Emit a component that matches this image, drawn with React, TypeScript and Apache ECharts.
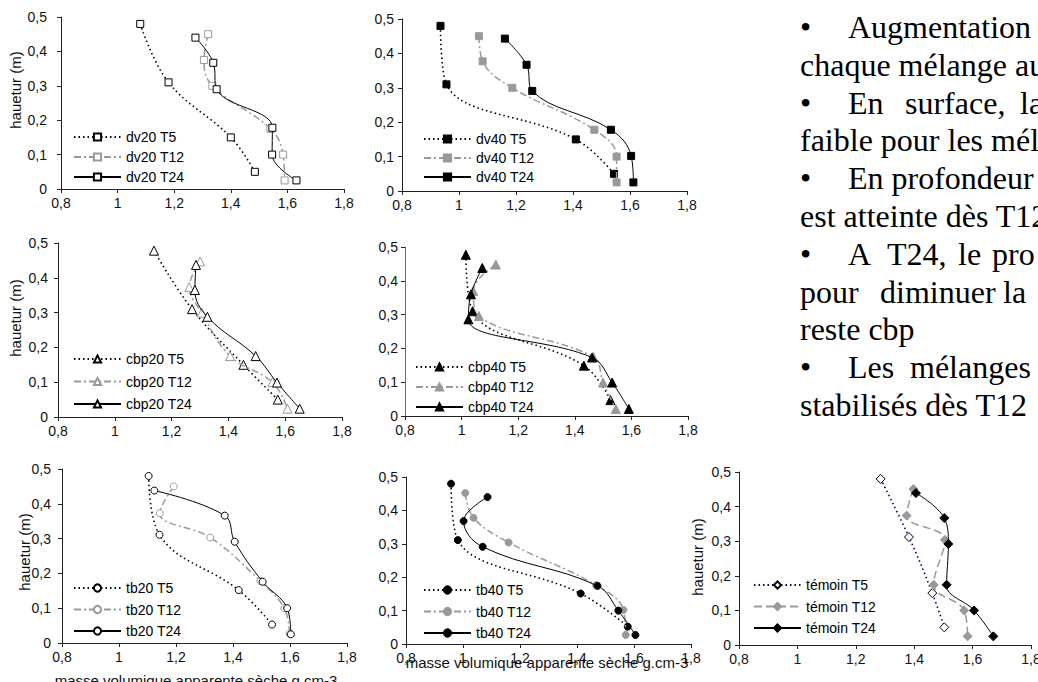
import React, { useEffect, useRef } from "react";
import * as echarts from "echarts";

// ---- data: [masse volumique, hauteur] ----
const dv20T5 = [[1.08, 0.48], [1.18, 0.31], [1.4, 0.15], [1.485, 0.05]];
const dv20T12 = [[1.32, 0.45], [1.305, 0.375], [1.335, 0.3], [1.54, 0.175], [1.585, 0.1], [1.59, 0.025]];
const dv20T24 = [[1.275, 0.44], [1.338, 0.367], [1.35, 0.29], [1.547, 0.178], [1.546, 0.1], [1.632, 0.025]];

const dv40T5 = [[0.935, 0.48], [0.956, 0.31], [1.41, 0.15], [1.544, 0.05]];
const dv40T12 = [[1.07, 0.45], [1.083, 0.377], [1.187, 0.3], [1.475, 0.178], [1.553, 0.1], [1.553, 0.025]];
const dv40T24 = [[1.161, 0.443], [1.237, 0.367], [1.257, 0.291], [1.533, 0.178], [1.604, 0.102], [1.612, 0.025]];

const cbp20T5 = [[1.138, 0.478], [1.272, 0.31], [1.453, 0.15], [1.574, 0.05]];
const cbp20T12 = [[1.3, 0.447], [1.262, 0.373], [1.306, 0.3], [1.406, 0.175], [1.555, 0.1], [1.608, 0.024]];
const cbp20T24 = [[1.286, 0.437], [1.282, 0.365], [1.326, 0.288], [1.496, 0.175], [1.571, 0.099], [1.651, 0.024]];

const cbp40T5 = [[1.015, 0.477], [1.039, 0.31], [1.432, 0.149], [1.526, 0.047]];
const cbp40T12 = [[1.121, 0.448], [1.041, 0.37], [1.061, 0.296], [1.465, 0.175], [1.5, 0.099], [1.545, 0.021]];
const cbp40T24 = [[1.073, 0.438], [1.033, 0.36], [1.024, 0.286], [1.461, 0.173], [1.532, 0.099], [1.591, 0.021]];

const tb20T5 = [[1.104, 0.48], [1.142, 0.311], [1.42, 0.152], [1.537, 0.053]];
const tb20T12 = [[1.192, 0.45], [1.143, 0.373], [1.32, 0.303], [1.496, 0.178], [1.58, 0.1], [1.598, 0.027]];
const tb20T24 = [[1.124, 0.438], [1.371, 0.366], [1.406, 0.291], [1.504, 0.176], [1.59, 0.1], [1.603, 0.025]];

const tb40T5 = [[0.958, 0.48], [0.982, 0.311], [1.413, 0.151], [1.578, 0.052]];
const tb40T12 = [[1.008, 0.452], [1.037, 0.378], [1.16, 0.304], [1.467, 0.176], [1.563, 0.102], [1.571, 0.027]];
const tb40T24 = [[1.086, 0.44], [1.002, 0.368], [1.069, 0.291], [1.472, 0.174], [1.545, 0.1], [1.605, 0.027]];

const temoinT5 = [[1.285, 0.48], [1.382, 0.312], [1.462, 0.15], [1.503, 0.051]];
const temoinT12 = [[1.397, 0.451], [1.374, 0.374], [1.505, 0.304], [1.467, 0.174], [1.571, 0.1], [1.583, 0.025]];
const temoinT24 = [[1.406, 0.439], [1.503, 0.367], [1.517, 0.292], [1.511, 0.174], [1.605, 0.1], [1.671, 0.025]];

const panelNames = ["dv20", "dv40", "cbp20", "cbp40", "tb20", "tb40", "témoin"];
const times = ["T5", "T12", "T24"];
const panelData = [
  [dv20T5, dv20T12, dv20T24],
  [dv40T5, dv40T12, dv40T24],
  [cbp20T5, cbp20T12, cbp20T24],
  [cbp40T5, cbp40T12, cbp40T24],
  [tb20T5, tb20T12, tb20T24],
  [tb40T5, tb40T12, tb40T24],
  [temoinT5, temoinT12, temoinT24],
];

const X_MIN = 0.8, X_MAX = 1.8, X_STEP = 0.2;
const Y_MIN = 0, Y_MAX = 0.5, Y_STEP = 0.1;
const yAxisTitle = "hauetur (m)";
const xAxisTitle = "masse volumique apparente sèche g.cm-3";

const textLines = [
  ["•", "Augmentation"],
  ["chaque mélange au"],
  ["•", "En", "surface,", "la"],
  ["faible pour les mél"],
  ["•", "En profondeur"],
  ["est atteinte dès T12"],
  ["•", "A", "T24,", "le", "pro"],
  ["pour", "diminuer", "la"],
  ["reste cbp"],
  ["•", "Les", "mélanges"],
  ["stabilisés dès T12"],
];

// ---- layout / style (not data) ----
const layouts = [
  { left: 61, top: 17, width: 283, height: 172, yM: 14, lgL: 73, lgT: 130, lgG: 6 },
  { left: 402, top: 19, width: 285, height: 172, yM: 8, lgL: 423, lgT: 132, lgG: 5 },
  { left: 58, top: 243, width: 284, height: 174, yM: 10, lgL: 73, lgT: 352, lgG: 8.5 },
  { left: 405, top: 247, width: 283, height: 169, yM: 7, lgL: 415, lgT: 360, lgG: 6 },
  { left: 62, top: 469, width: 285, height: 174, yM: 11, lgL: 73, lgT: 581, lgG: 7.5 },
  { left: 406, top: 477, width: 285, height: 167, yM: 8, lgL: 423, lgT: 583, lgG: 7.5 },
  { left: 739, top: 472, width: 292, height: 173, yM: 8, lgL: 753, lgT: 578, lgG: 7.5 },
];
const markers = [
  { symbol: "rect", size: 7, filled: [false, false, false] },
  { symbol: "rect", size: 7, filled: [true, true, true] },
  { symbol: "triangle", size: 9, filled: [false, false, false] },
  { symbol: "triangle", size: 9, filled: [true, true, true] },
  { symbol: "circle", size: 7, filled: [false, false, false] },
  { symbol: "circle", size: 7, filled: [true, true, true] },
  { symbol: "diamond", size: 9, filled: [false, true, true] },
];
const yTitlePos = [[15, 90], [15, 318], [24, 552], [697, 557]];
const xTitlePos = [[196, 680], [547, 662]];
const lineY = [27, 65, 103, 140, 178, 216, 254, 292, 329, 367, 405];
const lineX = [
  [800, 848], [800], [800, 848, 905, 1020], [800], [800, 848], [800],
  [800, 848, 887, 958, 992], [800, 880, 1003], [800], [800, 848, 910], [800],
];

const SANS = "'Liberation Sans', Arial, Helvetica, sans-serif";
const SERIF = "'Liberation Serif', 'Times New Roman', serif";
const GRAY = "#999999";

function fmt(v: number, d: number) {
  const r = Math.round(v * d) / d;
  return String(r).replace(".", ",");
}

function lineStyleFor(p: number, t: number) {
  if (t === 0) return { color: p === 6 ? "#000080" : "#000", type: [1.5, 3], width: 1.6 };
  if (t === 1) return { color: GRAY, type: p === 6 ? [8, 4] : [7, 3, 2, 3], width: 1.5 };
  return { color: "#000", type: "solid", width: 1 };
}

export default function App() {
  const ref = useRef<HTMLDivElement>(null);
  useEffect(() => {
    if (!ref.current) return;
    const chart = echarts.init(ref.current, null, { renderer: "svg" });
    const grid: any[] = [];
    const xAxis: any[] = [];
    const yAxis: any[] = [];
    const legend: any[] = [];
    const series: any[] = [];
    layouts.forEach((L, i) => {
      grid.push({ left: L.left, top: L.top, width: L.width, height: L.height, containLabel: false, outerBoundsMode: "none" });
      xAxis.push({
        type: "value", gridIndex: i, min: X_MIN, max: X_MAX, interval: X_STEP,
        axisLine: { show: true, onZero: false, lineStyle: { color: "#222", width: 1 } },
        axisTick: { show: true, length: 4, lineStyle: { color: "#222" } },
        splitLine: { show: false },
        axisLabel: { margin: 7, color: "#111", fontSize: 14, fontFamily: SANS, formatter: (v: number) => fmt(v, 10) },
      });
      yAxis.push({
        type: "value", gridIndex: i, min: Y_MIN, max: Y_MAX, interval: Y_STEP,
        axisLine: { show: true, onZero: false, lineStyle: { color: i === 3 ? "#666" : "#222", width: 1 } },
        axisTick: { show: true, length: 4, lineStyle: { color: "#222" } },
        splitLine: { show: false },
        axisLabel: { margin: L.yM, color: "#111", fontSize: 14, fontFamily: SANS, formatter: (v: number) => fmt(v, 100) },
      });
      const names = times.map((t) => `${panelNames[i]} ${t}`);
      legend.push({
        data: names, orient: "vertical", left: L.lgL, top: L.lgT, padding: 0,
        itemWidth: 47, itemHeight: 9, itemGap: L.lgG, selectedMode: false,
        textStyle: { fontSize: 14, fontFamily: SANS, color: "#000", lineHeight: 14 },
      });
      const M = markers[i];
      panelData[i].forEach((data, t) => {
        const ls = lineStyleFor(i, t);
        const mc = t === 1 ? GRAY : "#000";
        series.push({
          type: "line", name: names[t], xAxisIndex: i, yAxisIndex: i, data,
          smooth: 0.4, symbol: M.symbol, symbolSize: M.size, showSymbol: true, clip: false,
          lineStyle: ls,
          itemStyle: { color: M.filled[t] ? mc : "#fff", borderColor: mc, borderWidth: 1 },
          emphasis: { disabled: true }, z: 2 + t,
        });
      });
    });

    const graphic: any[] = [];
    yTitlePos.forEach(([x, y]) => {
      graphic.push({ type: "text", x, y, rotation: Math.PI / 2,
        style: { text: yAxisTitle, fontSize: 15, fontFamily: SANS, fill: "#111", align: "center", verticalAlign: "middle" } });
    });
    xTitlePos.forEach(([x, y]) => {
      graphic.push({ type: "text", x, y,
        style: { text: xAxisTitle, fontSize: 15, fontFamily: SANS, fill: "#111", align: "center", verticalAlign: "middle" } });
    });
    textLines.forEach((parts, li) => {
      parts.forEach((s, k) => {
        graphic.push({ type: "text", x: lineX[li][k], y: lineY[li],
          style: { text: s, fontSize: 32, fontFamily: SERIF, fill: "#000", align: "left", verticalAlign: "middle" } });
      });
    });

    chart.setOption({
      animation: false,
      backgroundColor: "#fff",
      textStyle: { fontFamily: SANS },
      grid, xAxis, yAxis, legend, series, graphic,
    });
    return () => chart.dispose();
  }, []);
  return <div ref={ref} style={{ position: "absolute", left: 0, top: 0, width: 1038, height: 682 }} />;
}
